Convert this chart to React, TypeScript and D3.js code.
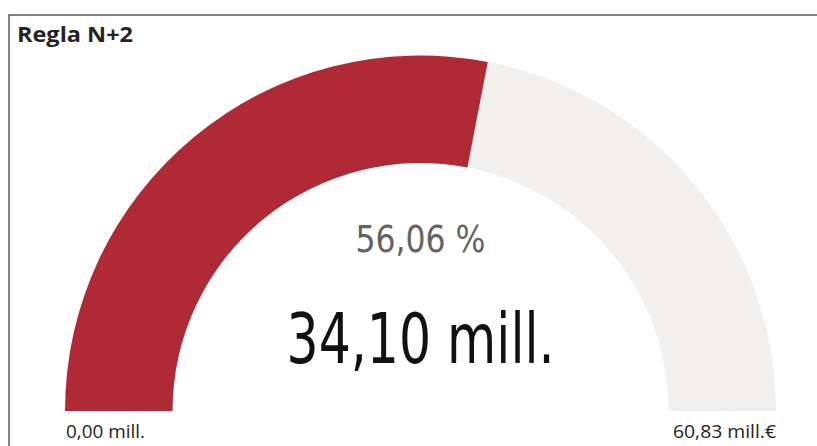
import * as d3 from 'd3';
import {useEffect, useRef} from "react";
import * as React from "react";

const title = "Regla N+2";
const gaugeMin = 0;
const gaugeMax = 60.83;
const gaugeValue = 34.10;
const minLabel = "0,00 mill.";
const maxLabel = "60,83 mill.€";
const valueLabel = "34,10 mill.";
const percentLabel = "56,06 %";

const App: React.FC = () => {
    const svgRef = useRef<SVGSVGElement | null>(null);

    useEffect(() => {
        const width = 817;
        const height = 446;
        const cx = 420.5;
        const cy = 411;
        const outerR = 355.5;
        const innerR = 248;

        const svg = d3.select(svgRef.current)
            .attr("width", width)
            .attr("height", height)
            .html("");

        // panel border
        svg.append("rect")
            .attr("x", 9)
            .attr("y", 15)
            .attr("width", width + 20)
            .attr("height", height + 20)
            .attr("fill", "white")
            .attr("stroke", "#5a5a5a")
            .attr("stroke-width", 1.5);

        svg.append("text")
            .attr("x", 17)
            .attr("y", 42)
            .attr("font-family", "'Open Sans', sans-serif")
            .attr("font-weight", 700)
            .attr("font-size", 22)
            .attr("fill", "#252423")
            .attr("textLength", 116)
            .attr("lengthAdjust", "spacingAndGlyphs")
            .text(title);

        const angle = d3.scaleLinear()
            .domain([gaugeMin, gaugeMax])
            .range([-Math.PI / 2, Math.PI / 2]);

        const arc = d3.arc<{ start: number; end: number }>()
            .innerRadius(innerR)
            .outerRadius(outerR)
            .startAngle(d => angle(d.start))
            .endAngle(d => angle(d.end));

        const g = svg.append("g")
            .attr("transform", `translate(${cx},${cy})`);

        g.append("path")
            .attr("d", arc({ start: gaugeMin, end: gaugeMax }))
            .attr("fill", "#f1f0ef");

        g.append("path")
            .attr("d", arc({ start: gaugeMin, end: gaugeValue }))
            .attr("fill", "#b02a35");

        const centerFont = "'DejaVu Sans Condensed', 'DejaVu Sans', sans-serif";

        g.append("text")
            .attr("x", 0)
            .attr("y", 252 - cy)
            .attr("text-anchor", "middle")
            .attr("font-family", centerFont)
            .attr("font-size", 37)
            .attr("fill", "#66625f")
            .attr("textLength", 130)
            .attr("lengthAdjust", "spacingAndGlyphs")
            .text(percentLabel);

        g.append("text")
            .attr("x", 0)
            .attr("y", 363 - cy)
            .attr("text-anchor", "middle")
            .attr("font-family", centerFont)
            .attr("font-size", 70)
            .attr("fill", "#111")
            .attr("textLength", 268)
            .attr("lengthAdjust", "spacingAndGlyphs")
            .text(valueLabel);

        svg.append("text")
            .attr("x", 66)
            .attr("y", 438)
            .attr("font-family", "'Open Sans', sans-serif")
            .attr("font-size", 18)
            .attr("fill", "#252423")
            .attr("textLength", 79)
            .attr("lengthAdjust", "spacingAndGlyphs")
            .text(minLabel);

        svg.append("text")
            .attr("x", 673)
            .attr("y", 438)
            .attr("font-family", "'Open Sans', sans-serif")
            .attr("font-size", 18)
            .attr("fill", "#252423")
            .attr("textLength", 103)
            .attr("lengthAdjust", "spacingAndGlyphs")
            .text(maxLabel);
    }, []);

    return <svg ref={svgRef} style={{ position: "absolute", left: 0, top: 0 }}></svg>;
};

export default App;
